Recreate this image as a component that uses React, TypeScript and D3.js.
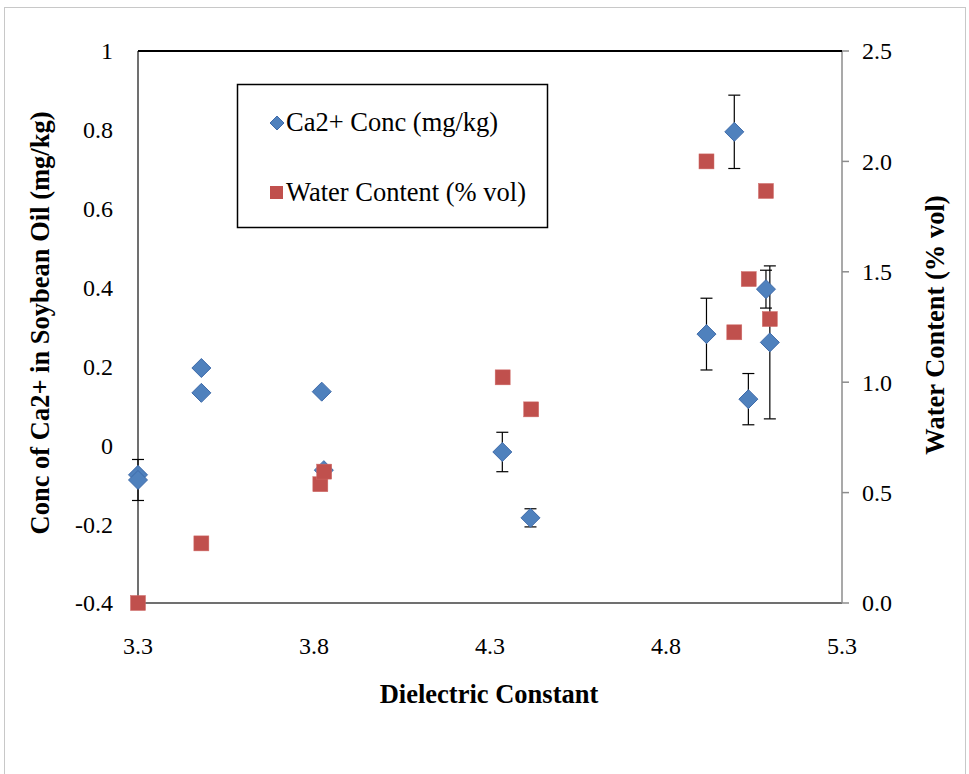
import React from "react";
import * as d3 from "d3";

// Dielectric constant of each sample
const caX = [3.3, 3.3, 3.48, 3.48, 3.822, 3.828, 4.335, 4.415, 4.915, 4.994, 5.034, 5.084, 5.095];
// Ca2+ concentration (mg/kg)
const caY = [-0.075, -0.088, 0.196, 0.133, 0.136, -0.063, -0.017, -0.184, 0.282, 0.795, 0.117, 0.396, 0.261];
// Error bar half-widths for the Ca2+ series
const caErr = [0.0, 0.052, 0.0, 0.0, 0.0, 0.0, 0.05, 0.023, 0.091, 0.093, 0.065, 0.048, 0.194];

// Water content (% vol) against dielectric constant
const waterX = [3.3, 3.48, 3.818, 3.829, 4.336, 4.417, 4.915, 4.994, 5.035, 5.084, 5.095];
const waterY = [0.0, 0.27, 0.538, 0.595, 1.022, 0.877, 2.0, 1.226, 1.467, 1.866, 1.286];

const xTicks = [3.3, 3.8, 4.3, 4.8, 5.3];
const leftTicks = [-0.4, -0.2, 0, 0.2, 0.4, 0.6, 0.8, 1];
const rightTicks = [0, 0.5, 1.0, 1.5, 2.0, 2.5];

const W = 969;
const H = 774;
const plot = { left: 138, right: 842, top: 51, bottom: 603 };
const FONT = "Liberation Serif, Times New Roman, DejaVu Serif, serif";
const BLUE = "#4F81BD";
const BLUE_EDGE = "#3F6BAA";
const RED = "#C0504D";
const TICK_SIZE = 24;
const TITLE_SIZE = 26.5;

export default function App() {
  const x = d3.scaleLinear().domain([3.3, 5.3]).range([plot.left, plot.right]);
  const yL = d3.scaleLinear().domain([-0.4, 1]).range([plot.bottom, plot.top]);
  const yR = d3.scaleLinear().domain([0, 2.5]).range([plot.bottom, plot.top]);

  const diamond = (cx: number, cy: number, r: number) =>
    `M${cx},${cy - r}L${cx + r},${cy}L${cx},${cy + r}L${cx - r},${cy}Z`;

  const fmtLeft = (v: number) => (Math.abs(v) < 1e-9 ? "0" : v === 1 ? "1" : v.toFixed(1));

  return (
    <svg
      width={W}
      height={H}
      style={{ position: "absolute", left: 0, top: 0, display: "block", background: "#fff", fontFamily: FONT }}
    >
      <rect x={4.5} y={7.5} width={961} height={800} fill="#fff" stroke="#c8c8c8" strokeWidth={1} />

      {/* axes frame */}
      <line x1={plot.left} x2={plot.right} y1={plot.bottom} y2={plot.bottom} stroke="#404040" strokeWidth={1.5} />
      <line x1={plot.left} x2={plot.left} y1={plot.top} y2={plot.bottom} stroke="#404040" strokeWidth={1.5} />
      <line x1={plot.right} x2={plot.right} y1={plot.top} y2={plot.bottom} stroke="#8c8c8c" strokeWidth={1.5} />
      <line x1={plot.left} x2={plot.right} y1={plot.top} y2={plot.top} stroke="#000" strokeWidth={2} />

      {/* right axis ticks */}
      {rightTicks.map((t) => (
        <g key={"r" + t}>
          <line x1={plot.right} x2={plot.right + 7} y1={yR(t)} y2={yR(t)} stroke="#8c8c8c" strokeWidth={1.5} />
          <text x={862} y={yR(t)} dy="0.35em" fontSize={TICK_SIZE} fill="#000">
            {t.toFixed(1)}
          </text>
        </g>
      ))}

      {/* left axis labels */}
      {leftTicks.map((t) => (
        <text key={"l" + t} x={113} y={yL(t)} dy="0.35em" fontSize={TICK_SIZE} textAnchor="end" fill="#000">
          {fmtLeft(t)}
        </text>
      ))}

      {/* bottom axis labels */}
      {xTicks.map((t) => (
        <text key={"x" + t} x={x(t)} y={654} fontSize={TICK_SIZE} textAnchor="middle" fill="#000">
          {t.toFixed(1)}
        </text>
      ))}

      {/* axis titles */}
      <text x={489} y={703} fontSize={TITLE_SIZE} fontWeight="bold" textAnchor="middle">
        Dielectric Constant
      </text>
      <text
        transform={`translate(49,${(plot.top + plot.bottom) / 2 - 4}) rotate(-90)`}
        fontSize={TITLE_SIZE}
        fontWeight="bold"
        textAnchor="middle"
      >
        Conc of Ca2+ in Soybean Oil (mg/kg)
      </text>
      <text
        transform={`translate(944,${(plot.top + plot.bottom) / 2 - 2}) rotate(-90)`}
        fontSize={TITLE_SIZE}
        fontWeight="bold"
        textAnchor="middle"
      >
        Water Content (% vol)
      </text>

      {/* Ca2+ error bars */}
      {caX.map((xv, i) =>
        caErr[i] > 0 ? (
          <g key={"e" + i} stroke="#000" strokeWidth={1.2}>
            <line x1={x(xv)} x2={x(xv)} y1={yL(caY[i] + caErr[i])} y2={yL(caY[i] - caErr[i])} />
            <line x1={x(xv) - 6} x2={x(xv) + 6} y1={yL(caY[i] + caErr[i])} y2={yL(caY[i] + caErr[i])} />
            <line x1={x(xv) - 6} x2={x(xv) + 6} y1={yL(caY[i] - caErr[i])} y2={yL(caY[i] - caErr[i])} />
          </g>
        ) : null
      )}

      {/* Ca2+ markers */}
      {caX.map((xv, i) => (
        <path key={"c" + i} d={diamond(x(xv), yL(caY[i]), 9.5)} fill={BLUE} stroke={BLUE_EDGE} strokeWidth={1} />
      ))}

      {/* water content markers */}
      {waterX.map((xv, i) => (
        <rect
          key={"w" + i}
          x={x(xv) - 7.5}
          y={yR(waterY[i]) - 7.5}
          width={15}
          height={15}
          fill={RED}
          stroke="#d06b68"
          strokeWidth={0.5}
        />
      ))}

      {/* legend */}
      <rect x={237.5} y={84.5} width={310} height={143} fill="#fff" stroke="#000" strokeWidth={1.5} />
      <path d={diamond(277, 123, 7)} fill={BLUE} stroke={BLUE_EDGE} strokeWidth={1} />
      <text x={286} y={131} fontSize={TITLE_SIZE}>
        Ca2+ Conc (mg/kg)
      </text>
      <rect x={270} y={186} width={13} height={13} fill={RED} />
      <text x={286} y={201} fontSize={TITLE_SIZE}>
        Water Content (% vol)
      </text>
    </svg>
  );
}
